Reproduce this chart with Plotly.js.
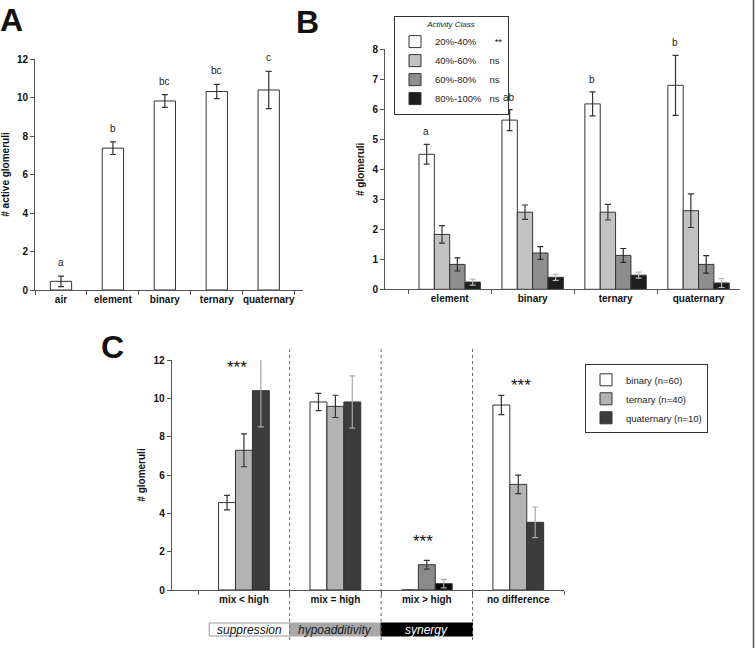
<!DOCTYPE html>
<html>
<head>
<meta charset="utf-8">
<script src="https://cdn.plot.ly/plotly-3.0.1.min.js"></script>
<style>html,body{margin:0;padding:0;background:#fff}</style>
</head>
<body>
<div id="chart" style="width:756px;height:648px"></div>
<script>
// ---------- Panel A ----------
const catsA = ['air', 'element', 'binary', 'ternary', 'quaternary'];
const valsA = [0.45, 7.37, 9.82, 10.31, 10.39];
const errA = [0.27, 0.33, 0.33, 0.37, 0.97];
const lettersA = ['a', 'b', 'bc', 'bc', 'c'];

// ---------- Panel B ----------
const catsB = ['element', 'binary', 'ternary', 'quaternary'];
const classNamesB = ['20%-40%', '40%-60%', '60%-80%', '80%-100%'];
const sigB = ['**', 'ns', 'ns', 'ns'];
const b20 = [4.50, 5.64, 6.18, 6.80];
const e20 = [0.33, 0.35, 0.40, 1.00];
const b40 = [1.83, 2.57, 2.57, 2.62];
const e40 = [0.29, 0.24, 0.26, 0.56];
const b60 = [0.83, 1.21, 1.13, 0.83];
const e60 = [0.22, 0.21, 0.23, 0.29];
const b80 = [0.24, 0.40, 0.47, 0.21];
const e80 = [0.10, 0.10, 0.10, 0.15];
const lettersB = ['a', 'ab', 'b', 'b'];

// ---------- Panel C ----------
const catsC = ['mix < high', 'mix = high', 'mix > high', 'no difference'];
const seriesC = ['binary (n=60)', 'ternary (n=40)', 'quaternary (n=10)'];
const cBin = [4.56, 9.81, 0, 9.65];
const eBin = [0.38, 0.45, null, 0.50];
const cTer = [7.29, 9.58, 1.32, 5.51];
const eTer = [0.86, 0.58, 0.23, 0.48];
const cQua = [10.40, 9.81, 0.33, 3.53];
const eQua = [1.89, 1.36, 0.22, 0.80];
const starsC = ['***', '', '***', '***'];
const starsY = [11.83, null, 2.75, 10.87];
const effectLabels = ['suppression', 'hypoadditivity', 'synergy'];

const W = 756, H = 648;
const px = v => v / W;
const py = v => 1 - v / H;
const FONT = 'Liberation Sans, Arial, Helvetica, sans-serif';
const LINE = {color: '#333', width: 1};

function errSpec(arr, color) {
  return {type: 'data', array: arr, visible: true, color: color, thickness: 1.2, width: 3};
}

const traces = [];

// A
traces.push({
  type: 'bar', x: catsA, y: valsA, xaxis: 'x', yaxis: 'y', width: 0.41,
  marker: {color: '#ffffff', line: LINE}, error_y: errSpec(errA, '#333'),
  showlegend: false, hoverinfo: 'x+y'
});

// B
const bVals = [b20, b40, b60, b80];
const bErrs = [e20, e40, e60, e80];
const bColors = ['#ffffff', '#c2c2c2', '#8e8e8e', '#1e1e1e'];
const bErrColors = ['#333', '#333', '#2a2a2a', '#bbbbbb'];
const padB = [7, 5, 5, 3];
for (let i = 0; i < 4; i++) {
  traces.push({
    type: 'bar', x: catsB, y: bVals[i], xaxis: 'x2', yaxis: 'y2',
    name: classNamesB[i] + '\u00a0'.repeat(padB[i]) + sigB[i],
    legend: 'legend',
    marker: {color: bColors[i], line: LINE},
    error_y: errSpec(bErrs[i], bErrColors[i])
  });
}

// C
const cVals = [cBin, cTer, cQua];
const cErrs = [eBin, eTer, eQua];
const cColors = [
  ['#ffffff', '#ffffff', '#ffffff', '#ffffff'],
  ['#b3b3b3', '#b3b3b3', '#8a8a8a', '#b3b3b3'],
  ['#3c3c3c', '#3c3c3c', '#0a0a0a', '#3c3c3c']
];
const cErrColors = ['#333', '#333', '#a8a8a8'];
const cOffsets = [-0.2775, -0.0925, 0.0925];
for (let i = 0; i < 3; i++) {
  traces.push({
    type: 'bar', x: catsC, y: cVals[i], xaxis: 'x3', yaxis: 'y3',
    name: seriesC[i], legend: 'legend2',
    width: 0.185, offset: cOffsets[i],
    marker: {color: cColors[i], line: LINE},
    error_y: errSpec(cErrs[i], cErrColors[i])
  });
}

// ---------- annotations ----------
const ann = [];
function big(text, x, y) {
  ann.push({text: text, xref: 'paper', yref: 'paper', x: px(x), y: py(y), xanchor: 'left', yanchor: 'top',
    showarrow: false, font: {size: 32, family: FONT, weight: 'bold', color: '#111'}});
}
big('A', -2, 0);
big('B', 294, 2);
big('C', 99, 327);

catsA.forEach((c, i) => ann.push({text: lettersA[i], xref: 'x', yref: 'y', x: c, y: valsA[i] + errA[i],
  yanchor: 'bottom', yshift: 6, showarrow: false, font: {size: 10, family: FONT, color: '#222'}}));
catsB.forEach((c, i) => ann.push({text: lettersB[i], xref: 'x2', yref: 'y2', x: i - 0.28, y: b20[i] + e20[i],
  yanchor: 'bottom', yshift: 5, showarrow: false, font: {size: 10, family: FONT, color: '#222'}}));
const starsDx = [-0.08, 0, -0.04, 0.03];
catsC.forEach((c, i) => {
  if (starsC[i]) ann.push({text: starsC[i], xref: 'x3', yref: 'y3', x: i + starsDx[i], y: starsY[i],
    yanchor: 'middle', yshift: -4, showarrow: false, font: {size: 17, family: FONT, color: '#111'}});
});

// effect labels + shapes
const shapes = [];
const effFill = ['#ffffff', '#a8a8a8', '#000000'];
const effText = ['#111', '#222', '#ffffff'];
const effX0 = [-0.38, 0.5, 1.5];
effectLabels.forEach((t, i) => {
  shapes.push({type: 'rect', xref: 'x3', yref: 'paper', x0: effX0[i], x1: i + 0.5, y0: py(636), y1: py(623),
    fillcolor: effFill[i], line: {color: i === 0 ? '#999' : effFill[i], width: 1}, layer: 'below'});
  ann.push({text: t, xref: 'x3', yref: 'paper', x: (effX0[i] + i + 0.5) / 2, y: py(629.5),
    xanchor: 'center', yanchor: 'middle', showarrow: false,
    font: {size: 12, family: FONT, style: 'italic', color: effText[i]}});
});
[0.5, 1.5, 2.5].forEach(xv => shapes.push({type: 'line', xref: 'x3', yref: 'paper', x0: xv, x1: xv,
  y0: py(640), y1: py(346), line: {color: '#666', width: 1, dash: 'dot'}}));
shapes.push({type: 'line', xref: 'paper', yref: 'paper', x0: px(753.5), x1: px(753.5), y0: 0, y1: 1,
  line: {color: '#555', width: 1.5}});

function xax(domain, range, anchor) {
  return {domain: domain, anchor: anchor, type: 'category', range: range, showline: true, linecolor: '#555',
    linewidth: 1, ticks: 'outside', tickson: 'boundaries', ticklen: 4, tickcolor: '#555', showgrid: false,
    zeroline: false, tickangle: 0, tickfont: {size: 10, family: FONT, weight: 'bold', color: '#111'}, fixedrange: true};
}
function yax(domain, range, anchor, title, standoff) {
  return {domain: domain, anchor: anchor, range: range, dtick: (range[1] > 8 ? 2 : 1), showline: true,
    linecolor: '#555', linewidth: 1, ticks: 'outside', ticklen: 4, tickcolor: '#555', showgrid: false,
    zeroline: false, tickfont: {size: 10, family: FONT, weight: 'bold', color: '#111'}, fixedrange: true,
    title: {text: title, standoff: standoff, font: {size: 10, family: FONT, weight: 'bold', color: '#111'}}};
}

const layout = {
  width: W, height: H, margin: {l: 0, r: 0, t: 0, b: 0},
  paper_bgcolor: '#ffffff', plot_bgcolor: 'rgba(0,0,0,0)',
  font: {family: FONT, size: 10, color: '#111'},
  barmode: 'group', bargap: 0.26, bargroupgap: 0,
  xaxis: xax([px(35), px(303)], [-0.5, 4.66], 'y'),
  yaxis: yax([py(290), py(59)], [0, 12], 'x', '# active glomeruli', 6),
  xaxis2: xax([px(385), px(740)], [-0.78, 3.5], 'y2'),
  yaxis2: yax([py(289.3), py(49.3)], [0, 8], 'x2', '# glomeruli', 5),
  xaxis3: xax([px(171.7), px(564)], [-0.79, 3.5], 'y3'),
  yaxis3: yax([py(590), py(360)], [0, 12], 'x3', '# glomeruli', 6),
  legend: {x: px(394), y: py(15.7), xanchor: 'left', yanchor: 'top', bgcolor: '#fff', bordercolor: '#333',
    borderwidth: 1, font: {size: 9.5, family: FONT, color: '#222'}, itemwidth: 30, tracegroupgap: 0,
    title: {text: 'Activity Class', side: 'top center', font: {size: 8, family: FONT, style: 'italic', color: '#222'}}},
  legend2: {x: px(585), y: py(364.3), xanchor: 'left', yanchor: 'top', bgcolor: '#fff', bordercolor: '#333',
    borderwidth: 1, font: {size: 9.5, family: FONT, color: '#222'}, itemwidth: 30, tracegroupgap: 0},
  annotations: ann, shapes: shapes, showlegend: true
};

Plotly.newPlot('chart', traces, layout, {displayModeBar: false, staticPlot: true});
</script>
</body>
</html>
